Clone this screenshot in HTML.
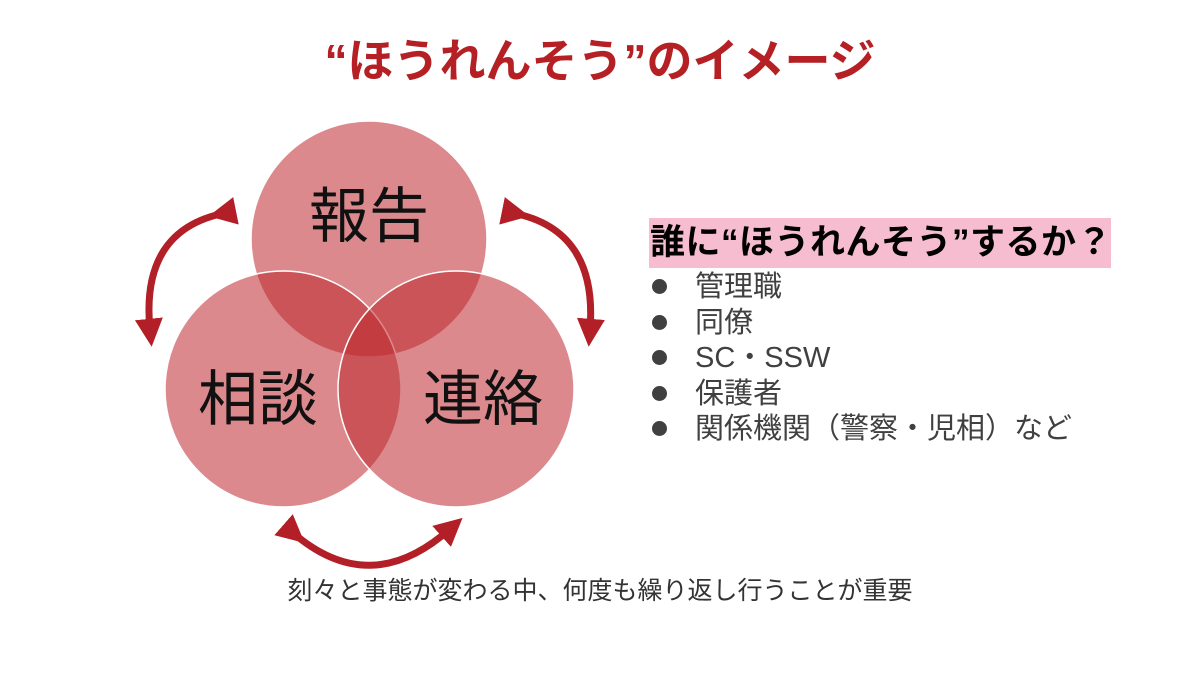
<!DOCTYPE html>
<html><head><meta charset="utf-8"><style>
body{margin:0;width:1200px;height:675px;background:#fff;overflow:hidden;position:relative;font-family:"Liberation Sans","Noto Sans CJK JP",sans-serif}
.t{position:absolute;white-space:nowrap}
.b{display:inline-block;width:15px;height:15px;border-radius:50%;background:#404040;margin-right:28px;vertical-align:2px}
</style></head><body>
<div class="t" style="left:0;width:1200px;top:34px;text-align:center;font-size:46px;font-weight:bold;color:#b52025;line-height:54px">“ほうれんそう”のイメージ</div>
<svg width="1200" height="675" style="position:absolute;left:0;top:0">
<defs><marker id="a" markerWidth="4" markerHeight="4" refX="1.6" refY="2" orient="auto" markerUnits="strokeWidth"><path d="M0,0 L4,2 L0,4 Z" fill="#b21f26"/></marker></defs>
<g fill="rgba(190,40,45,0.55)" stroke="#fff" stroke-width="1.5">
<circle cx="369" cy="239" r="118"/>
<circle cx="283" cy="389" r="118"/>
<circle cx="456" cy="389" r="118"/>
</g>
<g fill="none" stroke="#b21f26" stroke-width="7">
<path d="M225,213 Q140,230 150,330" marker-start="url(#a)" marker-end="url(#a)"/>
<path d="M513,213 Q598,230 590,330" marker-start="url(#a)" marker-end="url(#a)"/>
<path d="M292,532 Q370,600 450,529" marker-start="url(#a)" marker-end="url(#a)"/>
</g>
<g font-family="Liberation Sans,Noto Sans CJK JP,sans-serif" font-size="60" fill="#111" text-anchor="middle">
<text x="369" y="237">報告</text>
<text x="258" y="420">相談</text>
<text x="483" y="420">連絡</text>
</g>
</svg>
<div style="position:absolute;left:649px;top:218px;width:462px;height:50px;background:#f6bdd0"></div>
<div class="t" style="left:650px;top:222px;font-size:35px;letter-spacing:0.5px;font-weight:bold;color:#000;line-height:42px">誰に“ほうれんそう”するか？</div>
<div style="position:absolute;left:652px;top:270px;font-size:29px;color:#404040;line-height:35.5px">
<div><span class="b"></span>管理職</div>
<div><span class="b"></span>同僚</div>
<div><span class="b"></span>SC・SSW</div>
<div><span class="b"></span>保護者</div>
<div><span class="b"></span>関係機関（警察・児相）など</div>
</div>
<div class="t" style="left:0;width:1200px;text-align:center;top:576px;font-size:25px;color:#333;line-height:30px">刻々と事態が変わる中、何度も繰り返し行うことが重要</div>
</body></html>
